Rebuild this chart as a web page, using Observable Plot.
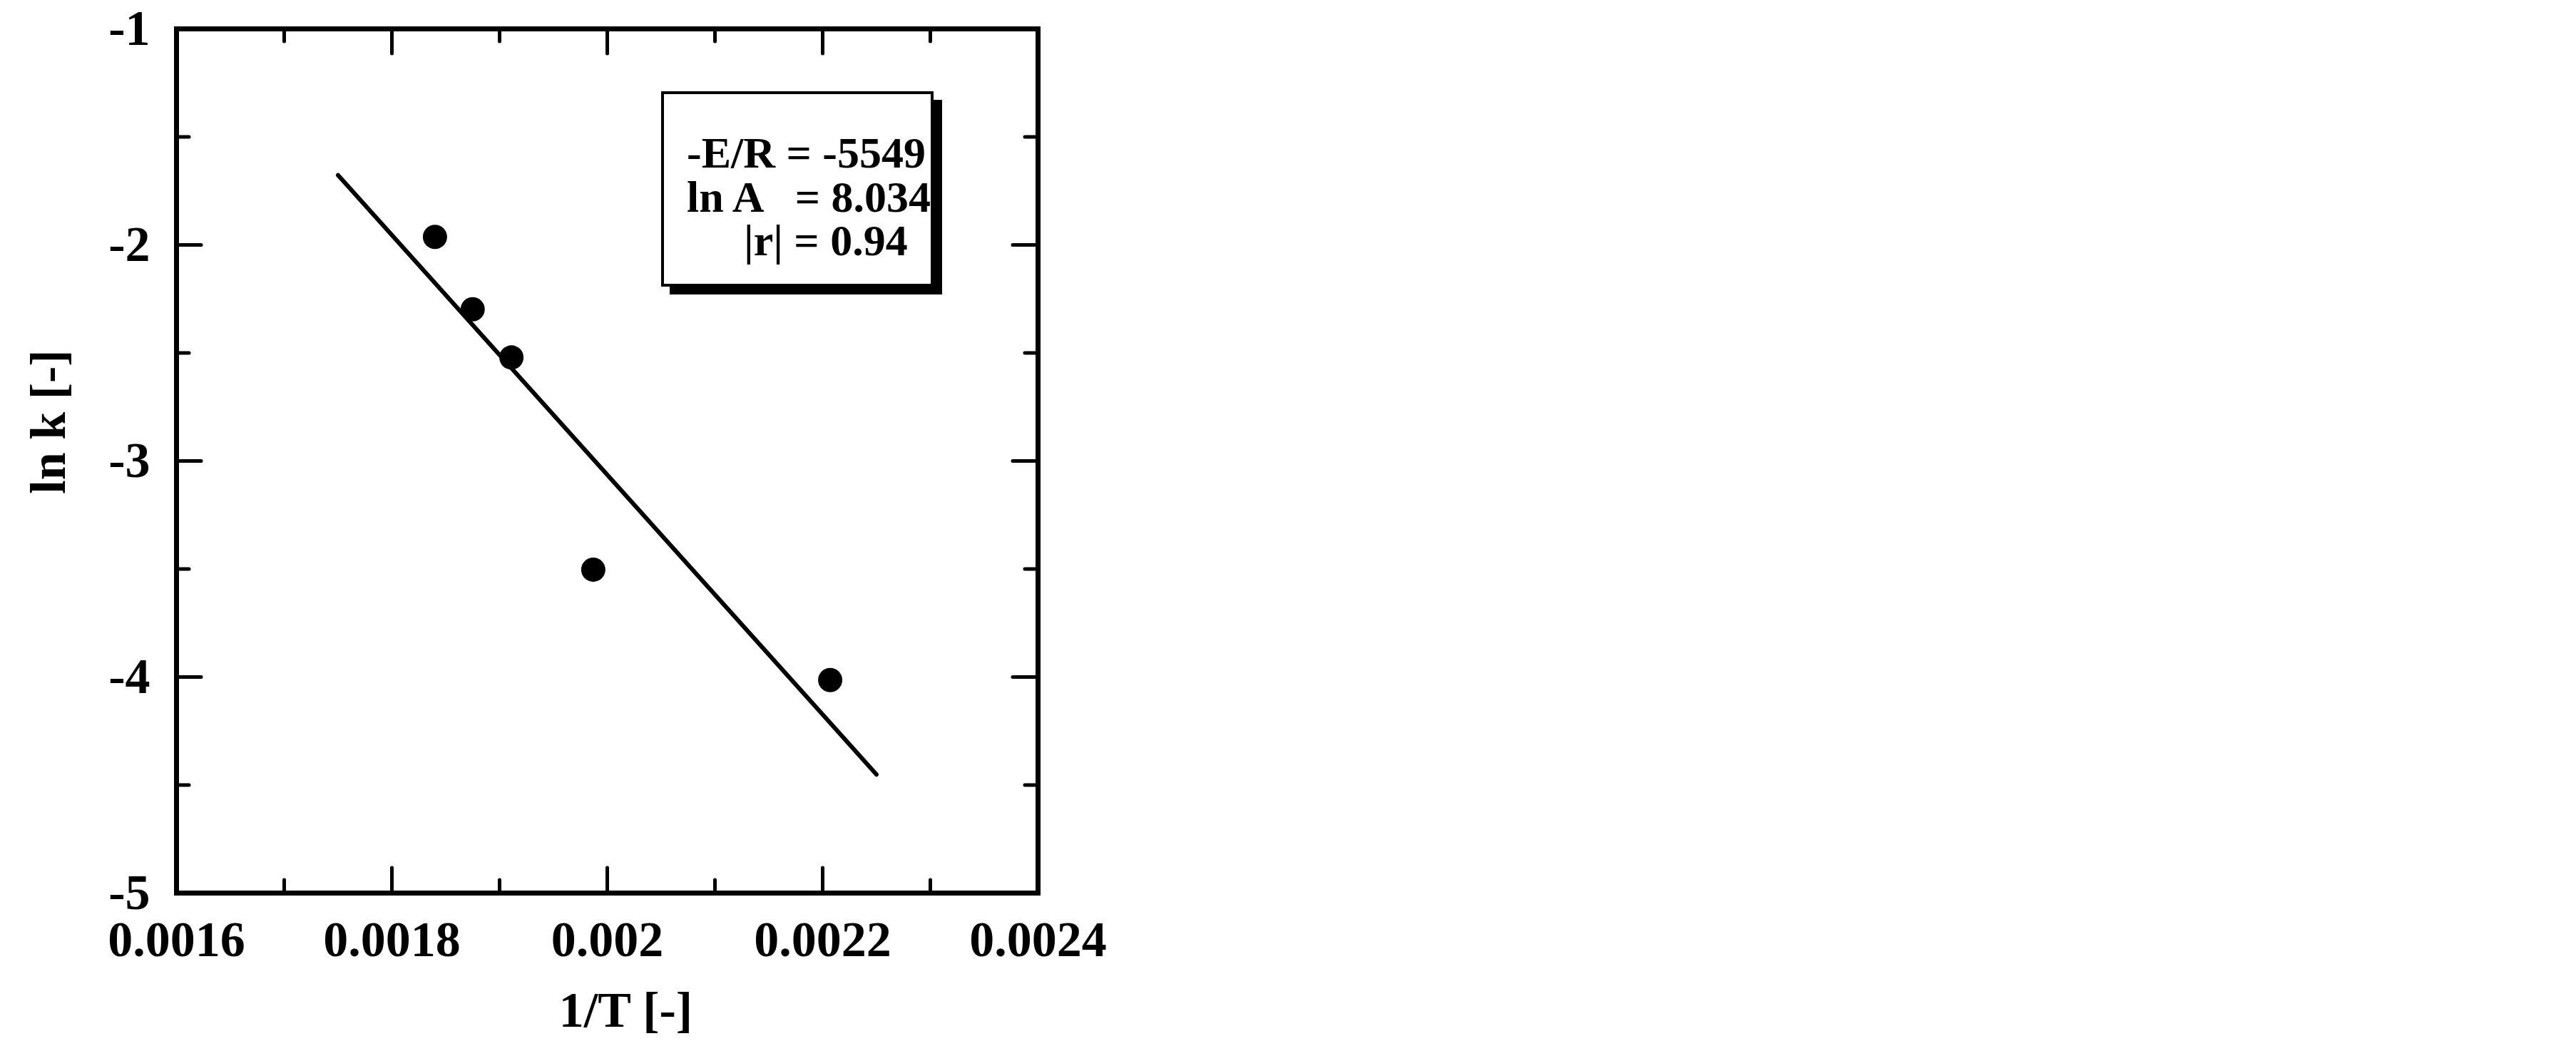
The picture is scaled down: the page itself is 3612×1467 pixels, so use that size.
<!DOCTYPE html>
<html>
<head>
<meta charset="utf-8">
<script src="https://cdn.jsdelivr.net/npm/d3@7"></script>
<script src="https://cdn.jsdelivr.net/npm/@observablehq/plot@0.6"></script>
<style>
  html, body { margin: 0; padding: 0; background: #fff; }
  #chart svg { display: block; }
</style>
</head>
<body>
<div id="chart"></div>
<script>
// ---- data ----
const invT = [0.00184, 0.001875, 0.001911, 0.001987, 0.002207];
const lnK  = [-1.963, -2.298, -2.521, -3.503, -4.014];

// fitted Arrhenius line (end points as drawn)
const fitX = [0.00175, 0.00225];
const fitY = [-1.677, -4.451];

// axis ticks
const xMajor = [0.0016, 0.0018, 0.002, 0.0022, 0.0024];
const xMajorLabels = ["0.0016", "0.0018", "0.002", "0.0022", "0.0024"];
const xMinor = [0.0017, 0.0019, 0.0021, 0.0023];
const yMajor = [-1, -2, -3, -4, -5];
const yMajorLabels = ["-1", "-2", "-3", "-4", "-5"];
const yMinor = [-1.5, -2.5, -3.5, -4.5];

// annotation text
const noteLines = ["-E/R = -5549", "ln A   = 8.034", "|r| = 0.94"];
const xTitle = "1/T [-]";
const yTitle = "ln k [-]";

// ---- build ----
const points = invT.map((x, i) => ({x, y: lnK[i]}));
const fit = fitX.map((x, i) => ({x, y: fitY[i]}));
const xInner = xMajor.slice(1, -1);
const yInner = yMajor.slice(1, -1);
const xLab = new Map(xMajor.map((v, i) => [v, xMajorLabels[i]]));
const yLab = new Map(yMajor.map((v, i) => [v, yMajorLabels[i]]));

const W = 3612, H = 1467;
const mL = 247, mR = 2157, mT = 40, mB = 215;
const plotH = H - mT - mB, plotW = W - mL - mR;
const FONT = "'Liberation Serif', 'Times New Roman', Times, serif";
const bigTick = 35, smallTick = 18, tickW = 5;

const chart = Plot.plot({
  width: W,
  height: H,
  marginLeft: mL,
  marginRight: mR,
  marginTop: mT,
  marginBottom: mB,
  style: {fontFamily: FONT, fontWeight: "bold", background: "#fff", color: "#000"},
  x: {domain: [0.0016, 0.0024]},
  y: {domain: [-5, -1]},
  marks: [
    // tick labels only (tick marks drawn inward below)
    Plot.axisX({ticks: xMajor, tickSize: 0, tickPadding: 39, fontSize: 70, tickFormat: d => xLab.get(d), label: null}),
    Plot.axisY({ticks: yMajor, tickSize: 0, tickPadding: 37, fontSize: 70, tickFormat: d => yLab.get(d), label: null}),
    // inward ticks: bottom
    Plot.tickX(xInner, {x: d => d, insetTop: plotH - bigTick, strokeWidth: tickW, strokeLinecap: "round"}),
    Plot.tickX(xMinor, {x: d => d, insetTop: plotH - smallTick, strokeWidth: tickW, strokeLinecap: "round"}),
    // top
    Plot.tickX(xInner, {x: d => d, insetBottom: plotH - bigTick, strokeWidth: tickW, strokeLinecap: "round"}),
    Plot.tickX(xMinor, {x: d => d, insetBottom: plotH - smallTick, strokeWidth: tickW, strokeLinecap: "round"}),
    // left
    Plot.tickY(yInner, {y: d => d, insetRight: plotW - bigTick, strokeWidth: tickW, strokeLinecap: "round"}),
    Plot.tickY(yMinor, {y: d => d, insetRight: plotW - smallTick, strokeWidth: tickW, strokeLinecap: "round"}),
    // right
    Plot.tickY(yInner, {y: d => d, insetLeft: plotW - bigTick, strokeWidth: tickW, strokeLinecap: "round"}),
    Plot.tickY(yMinor, {y: d => d, insetLeft: plotW - smallTick, strokeWidth: tickW, strokeLinecap: "round"}),
    Plot.frame({stroke: "#000", strokeWidth: 7}),
    // fitted line and data
    Plot.line(fit, {x: "x", y: "y", stroke: "#000", strokeWidth: 6, strokeLinecap: "round"}),
    Plot.dot(points, {x: "x", y: "y", r: 17, fill: "#000", stroke: null}),
    // axis titles
    Plot.text([xTitle], {text: d => d, frameAnchor: "bottom", textAnchor: "middle", lineAnchor: "bottom",
      dx: 26, dy: 187, fontSize: 70, fontWeight: "bold", fill: "#000"}),
    Plot.text([yTitle], {text: d => d, frameAnchor: "left", textAnchor: "middle", lineAnchor: "bottom",
      rotate: -90, dx: -157, dy: -55, fontSize: 70, fontWeight: "bold", fill: "#000"})
  ]
});

document.getElementById("chart").appendChild(chart);

// annotation box with drop shadow
const svg = d3.select(chart);
const note = svg.append("g")
  .attr("font-family", FONT).attr("font-weight", "bold").attr("font-size", 62)
  .attr("text-anchor", "start");
note.append("rect").attr("x", 939).attr("y", 140).attr("width", 382).attr("height", 273).attr("fill", "#000");
note.append("rect").attr("x", 929).attr("y", 130).attr("width", 378).attr("height", 270)
  .attr("fill", "#fff").attr("stroke", "#000").attr("stroke-width", 4);
const noteX = [963, 963, 1043];
const noteY = [235, 297, 358];
noteLines.forEach((t, i) => {
  note.append("text").attr("x", noteX[i]).attr("y", noteY[i]).attr("text-anchor", "start")
    .style("white-space", "pre").attr("xml:space", "preserve").attr("fill", "#000").text(t);
});
</script>
</body>
</html>
